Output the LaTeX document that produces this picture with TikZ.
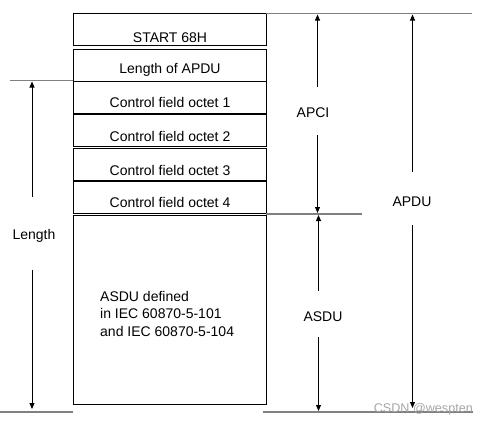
\documentclass[tikz,border=0pt]{standalone}
\usepackage{fontspec}
\setmainfont{Liberation Sans}
\usetikzlibrary{arrows.meta}
\definecolor{guide}{RGB}{128,128,128}
\tikzset{
  field/.style={draw=black, line width=1pt, minimum width=193pt, anchor=north west, inner sep=0pt},
  ftext/.style={font=\fontsize{14}{16}\selectfont, inner sep=0pt},
  guideline/.style={draw=guide, line width=1.4pt},
  dim/.style={draw=black, line width=0.9pt, -{Triangle[length=6pt,width=5pt]}},
  lab/.style={font=\fontsize{14}{16}\selectfont, inner sep=0pt},
}
\begin{document}
\begin{tikzpicture}[x=1pt,y=-1pt]
\useasboundingbox (0,0) rectangle (485,426);
% field boxes
\node[field, minimum height=32pt] (b1) at (73,13) {};
\node[ftext] (t1) at (170,37.5) {START 68H};
\node[field, minimum height=32pt] (b2) at (73,48.5) {};
\node[ftext] (t2) at (170,70) {Length of APDU};
\node[field, minimum height=31.5pt] (b3) at (73,81) {};
\node[ftext] (t3) at (170,102) {Control field octet 1};
\node[field, minimum height=32pt] (b4) at (73,114) {};
\node[ftext] (t4) at (170,136) {Control field octet 2};
\node[field, minimum height=32pt] (b5) at (73,148) {};
\node[ftext] (t5) at (170,170.5) {Control field octet 3};
\node[field, minimum height=31.5pt] (b6) at (73,181) {};
\node[ftext] (t6) at (170,202.5) {Control field octet 4};
\node[field, minimum height=189pt] (b7) at (73,215) {};
\node[font=\fontsize{14}{17.5}\selectfont, align=left, anchor=north west, inner sep=0pt] (t7) at (100,291) {ASDU defined\\in IEC 60870-5-101\\and IEC 60870-5-104};
% guide lines
\coordinate (gTopL) at (266,13.5);
\coordinate (gTopR) at (472,13.5);
\coordinate (gLenL) at (10,80.5);
\coordinate (gLenR) at (73,80.5);
\coordinate (gMidL) at (266,214);
\coordinate (gMidR) at (362,214);
\coordinate (gBotLL) at (0,412);
\coordinate (gBotLR) at (73,412);
\coordinate (gBotRL) at (263,412);
\coordinate (gBotRR) at (473,412);
\draw[guideline] (gTopL) -- (gTopR);
\draw[guideline] (gLenL) -- (gLenR);
\draw[guideline] (gMidL) -- (gMidR);
\draw[guideline] (gBotLL) -- (gBotLR);
\draw[guideline] (gBotRL) -- (gBotRR);
% dimension labels
\node[lab] (lLen) at (34,236) {Length};
\node[lab] (lApci) at (313,113) {APCI};
\node[lab] (lApdu) at (412,202) {APDU};
\node[lab] (lAsdu) at (323,317) {ASDU};
% dimension arrows
\coordinate (lenTop) at (32,81.5);
\coordinate (lenA) at (32,197);
\coordinate (lenB) at (32,270);
\coordinate (lenBot) at (32,409);
\draw[dim] (lenA) -- (lenTop);
\draw[dim] (lenB) -- (lenBot);
\coordinate (apciTop) at (317.5,14.5);
\coordinate (apciA) at (317.5,87);
\coordinate (apciB) at (317.5,135);
\coordinate (apciBot) at (317.5,213);
\draw[dim] (apciA) -- (apciTop);
\draw[dim] (apciB) -- (apciBot);
\coordinate (apduTop) at (412.5,14.5);
\coordinate (apduA) at (412.5,172);
\coordinate (apduB) at (412.5,225);
\coordinate (apduBot) at (412.5,408);
\draw[dim] (apduA) -- (apduTop);
\draw[dim] (apduB) -- (apduBot);
\coordinate (asduTop) at (318.5,215);
\coordinate (asduA) at (318.5,291);
\coordinate (asduB) at (318.5,337);
\coordinate (asduBot) at (318.5,411);
\draw[dim] (asduA) -- (asduTop);
\draw[dim] (asduB) -- (asduBot);
% watermark
\node[font=\fontsize{12.6}{14}\selectfont, text=black!35, anchor=east, inner sep=0pt] (wm) at (473,409) {CSDN @wespten};
\end{tikzpicture}
\end{document}
